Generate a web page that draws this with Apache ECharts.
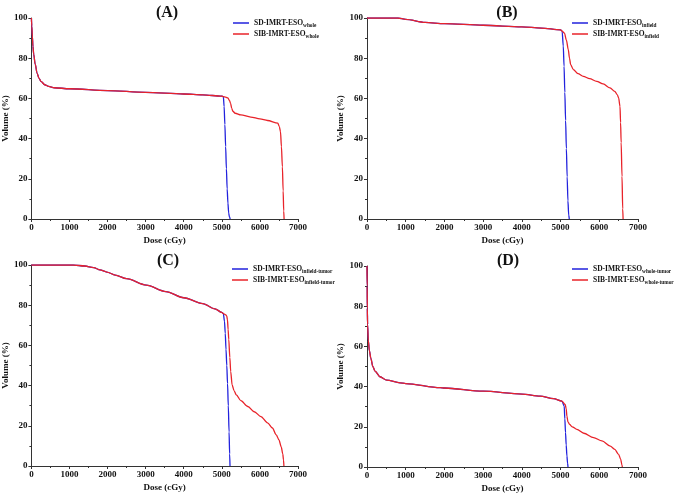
<!DOCTYPE html>
<html><head><meta charset="utf-8">
<script src="https://cdn.jsdelivr.net/npm/echarts@6/dist/echarts.min.js"></script>
<style>html,body{margin:0;padding:0;background:#fff}#c{width:675px;height:494px}</style>
</head><body><div id="c"></div>
<script>
// ---- data: [dose (cGy), volume (%)] ----
var panelTitles = ['(A)', '(B)', '(C)', '(D)'];
var subscripts = ['whole', 'infield', 'infield-tumor', 'whole-tumor'];
var xTicks = [0, 1000, 2000, 3000, 4000, 5000, 6000, 7000];
var yTicks = [0, 20, 40, 60, 80, 100];

var A_shared = [[0,100],[10,96],[25,91],[40,86],[60,82],[100,77],[150,72.5],[200,70],[250,68.5],[350,66.8],[450,66],[600,65.3],[1000,64.8],[2000,63.9],[3000,63],[4000,62.2],[4500,61.8],[5000,61.1],[5040,60.9]];
var A_sd_tail = [[5060,56],[5080,47],[5100,36],[5120,25],[5140,15],[5160,8],[5180,3],[5200,1],[5220,0]];
var A_sib_tail = [[5100,60.6],[5160,60.2],[5200,59],[5230,57.5],[5260,55],[5290,53.6],[5350,52.6],[5500,51.8],[5760,50.7],[6000,49.8],[6200,49],[6470,47.7],[6510,46],[6540,43.5],[6565,36],[6590,26],[6610,14],[6625,4],[6635,0]];

var B_shared = [[0,100],[800,100],[1000,99.3],[1500,97.8],[2000,97.2],[3000,96.4],[4000,95.6],[4500,95],[5000,94.1],[5040,93.5]];
var B_sd_tail = [[5070,86],[5090,76],[5110,63],[5130,49],[5150,35],[5170,21],[5190,9],[5210,2],[5225,0]];
var B_sib_tail = [[5100,92.5],[5150,89],[5200,84.2],[5230,80],[5261,76.8],[5330,74.3],[5450,72.3],[5588,71],[5750,69.8],[5933,68.5],[6100,67.2],[6277,65.2],[6400,63.5],[6466,61.8],[6500,60.2],[6535,56],[6550,48],[6565,38],[6587,21.2],[6605,5],[6615,0]];

var C_shared = [[0,100],[1100,100],[1400,99.5],[1636,98.7],[1800,97.6],[1981,96.5],[2200,95],[2498,93.2],[3015,90],[3531,86.8],[4000,83.7],[4500,80.8],[4820,78.2],[5000,76.4],[5040,75.8]];
var C_sd_tail = [[5070,72],[5090,66],[5110,58],[5130,50],[5150,41],[5170,30],[5190,17],[5205,6],[5215,0]];
var C_sib_tail = [[5105,75.2],[5130,74.5],[5148,72.7],[5165,68],[5182,63],[5210,54],[5233,47],[5270,40.4],[5320,37.5],[5380,35.4],[5500,32.5],[5682,29.6],[5850,27],[6027,24.6],[6200,21.5],[6328,18.9],[6430,15.5],[6500,13],[6560,9.5],[6600,6],[6620,3],[6630,0]];

var D_shared = [[0,100],[4,90],[8,79],[15,71],[34,63],[60,58],[100,54],[150,50],[207,47.7],[336,44.9],[509,43.2],[853,41.9],[1000,41.5],[1888,39.5],[2000,39.3],[3000,37.7],[4000,36.3],[4474,35.3],[4818,34],[5034,32.8]];
var D_sd_tail = [[5094,30.3],[5110,24],[5128,17.1],[5145,11],[5164,5.5],[5180,2],[5192,0]];
var D_sib_tail = [[5120,31.1],[5145,29],[5164,25.3],[5190,22.5],[5232,21.2],[5300,20],[5422,18.7],[5600,16.8],[5853,14.6],[6069,13],[6284,10.4],[6400,8.8],[6499,6.3],[6550,4],[6586,1],[6595,0]];

var sharedParts = [A_shared, B_shared, C_shared, D_shared];
var sdTails = [A_sd_tail, B_sd_tail, C_sd_tail, D_sd_tail];
var sibTails = [A_sib_tail, B_sib_tail, C_sib_tail, D_sib_tail];

// ---- layout ----
var grids = [
  {left: 27, top: 18, width: 271, height: 201},
  {left: 367, top: 18, width: 271, height: 201},
  {left: 27, top: 265, width: 271, height: 201},
  {left: 367, top: 266, width: 271, height: 202}
];
var titlePos = [[162, 0], [502, 0], [163, 248], [503, 248]];
var legendPos = [[233, 18], [572, 18], [232, 264], [572, 264]];

var FONT = '"Liberation Serif", "Times New Roman", serif';
var BLUE = '#2222dd';
var RED = '#e8232a';
var AXC = '#333';

var option = {
  backgroundColor: '#fff',
  animation: false,
  title: [], grid: [], xAxis: [], yAxis: [], legend: [], series: []
};

for (var i = 0; i < 4; i++) {
  option.title.push({
    text: panelTitles[i], left: titlePos[i][0], top: titlePos[i][1], textAlign: 'center',
    textStyle: {fontFamily: FONT, fontWeight: 'bold', fontSize: 16, color: '#111'}
  });
  option.grid.push(grids[i]);
  option.xAxis.push({
    gridIndex: i, type: 'value', min: xTicks[0], max: xTicks[xTicks.length - 1], interval: 1000,
    name: 'Dose (cGy)', nameLocation: 'middle', nameGap: 17,
    nameTextStyle: {fontFamily: FONT, fontWeight: 'bold', fontSize: 9, color: '#111'},
    axisLine: {show: true, lineStyle: {color: AXC, width: 1}},
    axisTick: {show: true, length: 3, inside: false, lineStyle: {color: AXC}},
    minorTick: {show: true, splitNumber: 2, length: 2, lineStyle: {color: AXC}},
    splitLine: {show: false},
    axisLabel: {fontFamily: FONT, fontWeight: 'bold', fontSize: 9, color: '#111', margin: 4,
      formatter: function (v) { return String(v); }}
  });
  option.yAxis.push({
    gridIndex: i, type: 'value', min: yTicks[0], max: yTicks[yTicks.length - 1], interval: 20,
    name: 'Volume (%)', nameLocation: 'middle', nameGap: 17, nameRotate: 90,
    nameTextStyle: {fontFamily: FONT, fontWeight: 'bold', fontSize: 9, color: '#111'},
    axisLine: {show: true, lineStyle: {color: AXC, width: 1}},
    axisTick: {show: true, length: 3, inside: false, lineStyle: {color: AXC}},
    minorTick: {show: true, splitNumber: 2, length: 2, lineStyle: {color: AXC}},
    splitLine: {show: false},
    axisLabel: {fontFamily: FONT, fontWeight: 'bold', fontSize: 9, color: '#111', margin: 4,
      formatter: function (v) { return String(v); }}
  });
  var sdName = 'SD-IMRT-ESO|' + subscripts[i];
  var sibName = 'SIB-IMRT-ESO|' + subscripts[i];
  option.legend.push({
    id: 'lg' + i,
    data: [sdName, sibName],
    orient: 'vertical', left: legendPos[i][0], top: legendPos[i][1] + 1,
    icon: 'rect', itemWidth: 16, itemHeight: 1.5, itemGap: 1.5, padding: 0,
    formatter: function (name) {
      var p = name.split('|');
      return '{m|' + p[0] + '}{s|' + p[1] + '}';
    },
    textStyle: {
      rich: {
        m: {fontFamily: FONT, fontWeight: 'bold', fontSize: 7.5, color: '#111', lineHeight: 11, verticalAlign: 'middle'},
        s: {fontFamily: FONT, fontWeight: 'bold', fontSize: 5.3, color: '#111', lineHeight: 11, verticalAlign: 'bottom', padding: [3, 0, 0, 0]}
      }
    }
  });
  option.series.push({
    name: sdName, type: 'line', xAxisIndex: i, yAxisIndex: i,
    data: sharedParts[i].concat(sdTails[i]),
    symbol: 'none', smooth: 0.3, smoothMonotone: 'x',
    lineStyle: {color: BLUE, width: 1.3}, itemStyle: {color: BLUE}, z: 2
  });
  option.series.push({
    name: sibName, type: 'line', xAxisIndex: i, yAxisIndex: i,
    data: sharedParts[i].concat(sibTails[i]),
    symbol: 'none', smooth: 0.3, smoothMonotone: 'x',
    lineStyle: {color: RED, width: 1.3}, itemStyle: {color: RED}, z: 3
  });
}

var chart = echarts.init(document.getElementById('c'), null, {renderer: 'canvas'});
chart.setOption(option);
</script>
</body></html>
